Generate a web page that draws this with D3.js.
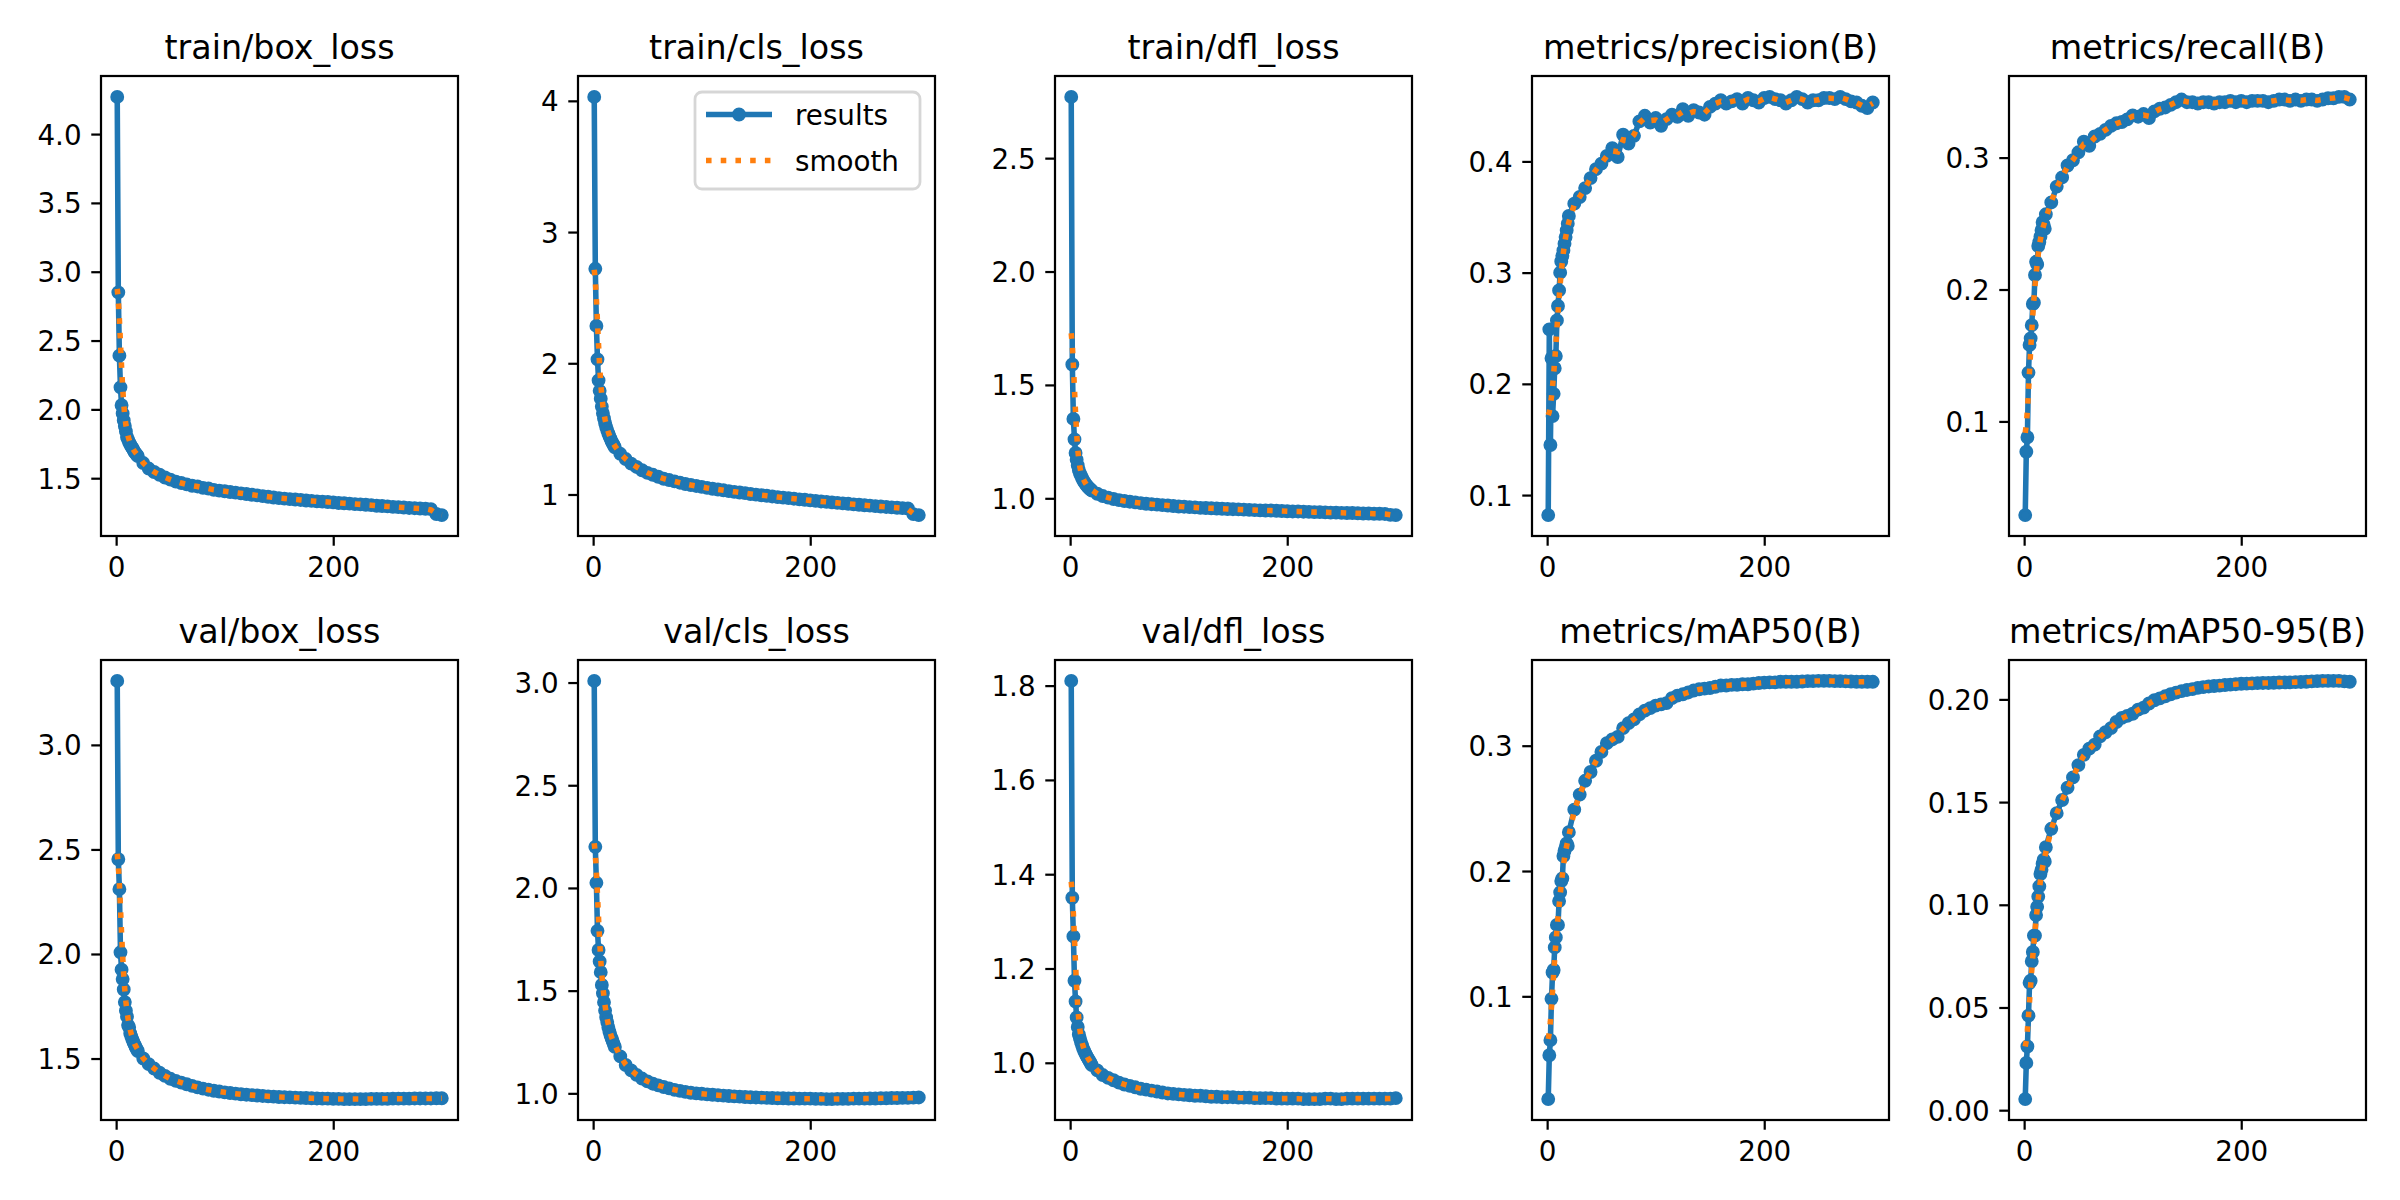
<!DOCTYPE html>
<html>
<head>
<meta charset="utf-8">
<script src="https://cdn.jsdelivr.net/npm/d3@7"></script>
<style>
  body { margin: 0; background: #fff; }
  svg { display: block; }
  text { font-family: "DejaVu Sans", sans-serif; fill: #000; }
</style>
</head>
<body>
<svg id="chart"></svg>
<script>
// epochs (every epoch at the start, then every 5)
const epochs = [1, 2, 3, 4, 5, 6, 7, 8, 9, 10, 11, 12, 13, 14, 15, 16, 17, 18, 19, 20,
  25, 30, 35, 40, 45, 50, 55, 60, 65, 70, 75, 80, 85, 90, 95, 100, 105, 110, 115, 120,
  125, 130, 135, 140, 145, 150, 155, 160, 165, 170, 175, 180, 185, 190, 195, 200, 205, 210, 215, 220,
  225, 230, 235, 240, 245, 250, 255, 260, 265, 270, 275, 280, 285, 290, 295, 300];

const titles = ["train/box_loss", "train/cls_loss", "train/dfl_loss", "metrics/precision(B)", "metrics/recall(B)",
  "val/box_loss", "val/cls_loss", "val/dfl_loss", "metrics/mAP50(B)", "metrics/mAP50-95(B)"];

const trainBoxLoss = [4.27, 2.85, 2.39, 2.16, 2.03, 1.97, 1.92, 1.88, 1.84, 1.80,
  1.78, 1.76, 1.745, 1.73, 1.72, 1.705, 1.69, 1.68, 1.67, 1.66,
  1.61, 1.57, 1.545, 1.525, 1.505, 1.49, 1.475, 1.465, 1.455, 1.445,
  1.44, 1.43, 1.425, 1.415, 1.41, 1.405, 1.40, 1.395, 1.39, 1.385,
  1.38, 1.375, 1.37, 1.365, 1.36, 1.355, 1.352, 1.348, 1.345, 1.342,
  1.338, 1.335, 1.332, 1.33, 1.327, 1.324, 1.32, 1.318, 1.315, 1.312,
  1.31, 1.307, 1.304, 1.30, 1.298, 1.295, 1.292, 1.29, 1.287, 1.284,
  1.282, 1.28, 1.278, 1.275, 1.24, 1.232];

const trainClsLoss = [4.03, 2.72, 2.285, 2.03, 1.87, 1.79, 1.73, 1.67, 1.62, 1.58,
  1.545, 1.515, 1.49, 1.465, 1.445, 1.425, 1.405, 1.39, 1.375, 1.36,
  1.31, 1.27, 1.235, 1.21, 1.185, 1.165, 1.15, 1.135, 1.12, 1.11,
  1.10, 1.09, 1.08, 1.072, 1.065, 1.058, 1.05, 1.044, 1.038, 1.032,
  1.026, 1.02, 1.015, 1.01, 1.004, 0.999, 0.994, 0.99, 0.985, 0.98,
  0.976, 0.972, 0.968, 0.963, 0.96, 0.955, 0.951, 0.947, 0.944, 0.94,
  0.936, 0.932, 0.929, 0.925, 0.922, 0.918, 0.915, 0.911, 0.908, 0.905,
  0.902, 0.899, 0.896, 0.893, 0.85, 0.843];

const trainDflLoss = [2.77, 1.59, 1.35, 1.26, 1.20, 1.17, 1.145, 1.125, 1.11, 1.10,
  1.09, 1.08, 1.072, 1.065, 1.058, 1.052, 1.047, 1.042, 1.038, 1.034,
  1.02, 1.01, 1.003, 0.997, 0.992, 0.988, 0.985, 0.982, 0.979, 0.976,
  0.974, 0.972, 0.97, 0.968, 0.966, 0.964, 0.963, 0.961, 0.96, 0.958,
  0.957, 0.956, 0.955, 0.954, 0.953, 0.952, 0.951, 0.95, 0.949, 0.948,
  0.947, 0.946, 0.946, 0.945, 0.944, 0.943, 0.942, 0.942, 0.941, 0.94,
  0.939, 0.939, 0.938, 0.937, 0.937, 0.936, 0.935, 0.935, 0.934, 0.933,
  0.933, 0.932, 0.932, 0.931, 0.927, 0.926];

const precision = [0.082, 0.249, 0.145, 0.223, 0.171, 0.191, 0.214, 0.225, 0.257, 0.270,
  0.284, 0.300, 0.310, 0.315, 0.320, 0.326, 0.332, 0.338, 0.344, 0.351,
  0.362, 0.368, 0.376, 0.385, 0.393, 0.398, 0.405, 0.412, 0.404, 0.424,
  0.416, 0.423, 0.436, 0.441, 0.435, 0.439, 0.432, 0.438, 0.442, 0.44,
  0.447, 0.441, 0.446, 0.444, 0.442, 0.449, 0.452, 0.455, 0.452, 0.454,
  0.456, 0.452, 0.457, 0.455, 0.453, 0.457, 0.458, 0.456, 0.455, 0.452,
  0.455, 0.458, 0.456, 0.453, 0.455, 0.455, 0.457, 0.457, 0.456, 0.458,
  0.456, 0.454, 0.453, 0.45, 0.448, 0.453];

const recall = [0.029, 0.077, 0.088, 0.137, 0.158, 0.163, 0.173, 0.189, 0.19, 0.211,
  0.221, 0.219, 0.233, 0.236, 0.240, 0.245, 0.251, 0.249, 0.246, 0.257,
  0.266, 0.278, 0.285, 0.294, 0.298, 0.304, 0.312, 0.309, 0.316, 0.318,
  0.321, 0.324, 0.326, 0.327, 0.329, 0.332, 0.331, 0.333, 0.330, 0.335,
  0.337, 0.338, 0.34, 0.342, 0.344, 0.342, 0.342, 0.341, 0.342, 0.342,
  0.341, 0.342, 0.342, 0.343, 0.342, 0.343, 0.342, 0.343, 0.343, 0.343,
  0.342, 0.343, 0.344, 0.344, 0.343, 0.344, 0.343, 0.344, 0.344, 0.343,
  0.344, 0.345, 0.345, 0.346, 0.346, 0.344];

const valBoxLoss = [3.306, 2.453, 2.31, 2.008, 1.925, 1.88, 1.83, 1.77, 1.729, 1.70,
  1.66, 1.65, 1.62, 1.605, 1.59, 1.578, 1.566, 1.555, 1.545, 1.536,
  1.50, 1.473, 1.452, 1.432, 1.417, 1.403, 1.393, 1.385, 1.377, 1.369,
  1.362, 1.356, 1.351, 1.346, 1.342, 1.338, 1.335, 1.332, 1.329, 1.327,
  1.325, 1.323, 1.321, 1.319, 1.318, 1.316, 1.315, 1.314, 1.313, 1.312,
  1.311, 1.31, 1.309, 1.308, 1.308, 1.307, 1.307, 1.306, 1.306, 1.306,
  1.306, 1.306, 1.307, 1.307, 1.307, 1.307, 1.308, 1.308, 1.308, 1.308,
  1.309, 1.309, 1.309, 1.309, 1.31, 1.31];

const valClsLoss = [3.008, 2.20, 2.025, 1.791, 1.698, 1.642, 1.59, 1.528, 1.487, 1.444,
  1.403, 1.37, 1.347, 1.322, 1.30, 1.283, 1.268, 1.254, 1.24, 1.226,
  1.18, 1.138, 1.112, 1.09, 1.072, 1.058, 1.047, 1.039, 1.031, 1.024,
  1.017, 1.012, 1.007, 1.003, 1.0, 0.998, 0.995, 0.993, 0.991, 0.989,
  0.987, 0.985, 0.984, 0.982, 0.981, 0.98, 0.979, 0.978, 0.977, 0.976,
  0.976, 0.975, 0.975, 0.974, 0.974, 0.974, 0.973, 0.973, 0.972, 0.972,
  0.973, 0.973, 0.973, 0.974, 0.974, 0.974, 0.975, 0.975, 0.976, 0.976,
  0.977, 0.977, 0.978, 0.978, 0.979, 0.98];

const valDflLoss = [1.81, 1.35, 1.268, 1.174, 1.13, 1.096, 1.076, 1.06, 1.052, 1.044,
  1.037, 1.03, 1.025, 1.02, 1.015, 1.011, 1.007, 1.003, 0.999, 0.995,
  0.984, 0.974, 0.968, 0.963, 0.958, 0.954, 0.951, 0.948, 0.945, 0.943,
  0.941, 0.939, 0.937, 0.935, 0.934, 0.933, 0.932, 0.931, 0.93, 0.93,
  0.929, 0.928, 0.928, 0.927, 0.927, 0.927, 0.926, 0.926, 0.926, 0.925,
  0.925, 0.925, 0.925, 0.924, 0.924, 0.924, 0.924, 0.924, 0.923, 0.923,
  0.923, 0.923, 0.924, 0.924, 0.923, 0.923, 0.924, 0.924, 0.924, 0.924,
  0.924, 0.924, 0.924, 0.924, 0.924, 0.925];

const mAP50 = [0.018, 0.053, 0.065, 0.098, 0.119, 0.121, 0.139, 0.147, 0.157, 0.157,
  0.176, 0.183, 0.192, 0.194, 0.212, 0.216, 0.219, 0.222, 0.220, 0.231,
  0.249, 0.261, 0.272, 0.279, 0.288, 0.295, 0.302, 0.305, 0.307, 0.314,
  0.318, 0.321, 0.325, 0.328, 0.330, 0.332, 0.333, 0.334, 0.338, 0.340,
  0.341, 0.3425, 0.344, 0.345, 0.3455, 0.346, 0.347, 0.348, 0.348, 0.3485,
  0.3485, 0.349, 0.349, 0.3495, 0.35, 0.3503, 0.3505, 0.3505, 0.351, 0.351,
  0.351, 0.351, 0.3512, 0.3515, 0.3515, 0.3517, 0.3517, 0.3517, 0.3515, 0.3515,
  0.3513, 0.3512, 0.351, 0.351, 0.351, 0.351];

const mAP5095 = [0.0054, 0.023, 0.031, 0.046, 0.062, 0.063, 0.0725, 0.077, 0.085, 0.085,
  0.095, 0.099, 0.104, 0.109, 0.115, 0.117, 0.120, 0.122, 0.121, 0.128,
  0.137, 0.1446, 0.151, 0.157, 0.162, 0.168, 0.173, 0.176, 0.178, 0.182,
  0.184, 0.186, 0.189, 0.191, 0.192, 0.193, 0.195, 0.196, 0.198, 0.1996,
  0.2005, 0.2015, 0.2025, 0.2033, 0.204, 0.2046, 0.205, 0.2056, 0.206, 0.2063,
  0.2065, 0.2067, 0.207, 0.2072, 0.2074, 0.2076, 0.2077, 0.2078, 0.2079, 0.208,
  0.208, 0.2081, 0.2082, 0.2083, 0.2083, 0.2084, 0.2085, 0.2086, 0.2088, 0.2089,
  0.209, 0.209, 0.209, 0.209, 0.2088, 0.2086];

// tick labels as they appear on each y axis
const yTickLabels = [
  ["1.5", "2.0", "2.5", "3.0", "3.5", "4.0"],
  ["1", "2", "3", "4"],
  ["1.0", "1.5", "2.0", "2.5"],
  ["0.1", "0.2", "0.3", "0.4"],
  ["0.1", "0.2", "0.3"],
  ["1.5", "2.0", "2.5", "3.0"],
  ["1.0", "1.5", "2.0", "2.5", "3.0"],
  ["1.0", "1.2", "1.4", "1.6", "1.8"],
  ["0.1", "0.2", "0.3"],
  ["0.00", "0.05", "0.10", "0.15", "0.20"]
];
const xTickLabels = ["0", "200"];
const legendLabels = ["results", "smooth"];

const series = [trainBoxLoss, trainClsLoss, trainDflLoss, precision, recall,
  valBoxLoss, valClsLoss, valDflLoss, mAP50, mAP5095];

// figure geometry (12x6 in at 200 dpi)
const W = 2400, H = 1200;
const pt = 200 / 72;
const colLeft = [101, 578, 1055, 1532, 2009];
const rowTop = [76, 660];
const axW = 357, axH = 460;
const blue = "#1f77b4", orange = "#ff7f0e";

const svg = d3.select("#chart")
  .attr("width", W)
  .attr("height", H)
  .attr("viewBox", `0 0 ${W} ${H}`);
svg.append("rect").attr("width", W).attr("height", H).attr("fill", "#fff");

// gaussian smoothing (sigma in epochs), reflected at both ends like gaussian_filter1d
function smooth(xs, ys, sigma) {
  const n = xs.length;
  const lo = xs[0] - 0.5, hi = xs[n - 1] + 0.5;
  const step = xs.map((x, i) => i === 0 ? xs[1] - xs[0]
    : i === n - 1 ? xs[i] - xs[i - 1] : (xs[i + 1] - xs[i - 1]) / 2);
  return xs.map(x0 => {
    let sw = 0, s = 0;
    xs.forEach((x, j) => {
      [x, 2 * lo - x, 2 * hi - x].forEach(xr => {
        const w = Math.exp(-((xr - x0) ** 2) / (2 * sigma * sigma)) * step[j];
        sw += w; s += w * ys[j];
      });
    });
    return s / sw;
  });
}

const xExt = d3.extent(epochs);
const xPad = (xExt[1] - xExt[0]) * 0.05;

series.forEach((ys, k) => {
  const left = colLeft[k % 5], top = rowTop[Math.floor(k / 5)];
  const g = svg.append("g").attr("transform", `translate(${left},${top})`);

  const sm = smooth(epochs, ys, 3);
  const yExt = d3.extent(ys.concat(sm));
  const yPad = (yExt[1] - yExt[0]) * 0.05;

  const x = d3.scaleLinear().domain([xExt[0] - xPad, xExt[1] + xPad]).range([0, axW]);
  const y = d3.scaleLinear().domain([yExt[0] - yPad, yExt[1] + yPad]).range([axH, 0]);

  const pts = epochs.map((e, i) => [e, ys[i]]);
  const spts = epochs.map((e, i) => [e, sm[i]]);
  const line = d3.line().x(d => x(d[0])).y(d => y(d[1]));

  // results line with point markers
  g.append("path")
    .attr("d", line(pts))
    .attr("fill", "none")
    .attr("stroke", blue)
    .attr("stroke-width", 2 * pt)
    .attr("stroke-linejoin", "round");

  g.selectAll(".pt")
    .data(pts)
    .enter().append("circle")
    .attr("class", "pt")
    .attr("cx", d => x(d[0]))
    .attr("cy", d => y(d[1]))
    .attr("r", 2 * pt)
    .attr("fill", blue)
    .attr("stroke", blue)
    .attr("stroke-width", pt);

  // smoothed dotted line
  g.append("path")
    .attr("d", line(spts))
    .attr("fill", "none")
    .attr("stroke", orange)
    .attr("stroke-width", 2 * pt)
    .attr("stroke-dasharray", `${2 * pt} ${3.3 * pt}`);

  // axes
  const yAxis = d3.axisLeft(y)
    .tickValues(yTickLabels[k].map(Number))
    .tickFormat((d, i) => yTickLabels[k][i])
    .tickSize(3.5 * pt)
    .tickPadding(3.5 * pt);
  const xAxis = d3.axisBottom(x)
    .tickValues(xTickLabels.map(Number))
    .tickFormat((d, i) => xTickLabels[i])
    .tickSize(3.5 * pt)
    .tickPadding(3.5 * pt);

  const ya = g.append("g").call(yAxis);
  const xa = g.append("g").attr("transform", `translate(0,${axH})`).call(xAxis);
  [ya, xa].forEach(a => {
    a.select(".domain").remove();
    a.selectAll(".tick line").attr("stroke", "#000").attr("stroke-width", 0.8 * pt);
    a.selectAll(".tick text")
      .attr("font-family", "DejaVu Sans")
      .attr("font-size", 10 * pt)
      .attr("fill", "#000");
  });
  ya.selectAll(".tick text").attr("dy", "0.36em");
  xa.selectAll(".tick text").attr("dy", "0.76em");

  // frame
  g.append("rect")
    .attr("width", axW)
    .attr("height", axH)
    .attr("fill", "none")
    .attr("stroke", "#000")
    .attr("stroke-width", 0.8 * pt);

  // title
  g.append("text")
    .attr("x", axW / 2)
    .attr("y", -6 * pt)
    .attr("text-anchor", "middle")
    .attr("font-size", 12 * pt)
    .text(titles[k]);

  // legend on the second panel, upper right
  if (k === 1) {
    const fs = 10 * pt;
    const lw = 225, lh = 97;
    const lx = axW - 15 - lw, ly = 16;
    const lg = g.append("g");
    lg.append("rect")
      .attr("x", lx).attr("y", ly)
      .attr("width", lw).attr("height", lh)
      .attr("rx", 7)
      .attr("fill", "#fff").attr("fill-opacity", 0.8)
      .attr("stroke", "#cccccc").attr("stroke-opacity", 0.8)
      .attr("stroke-width", pt);
    legendLabels.forEach((lab, i) => {
      const cy = ly + 22.5 + i * 46;
      const hx1 = lx + 11, hx2 = lx + 77;
      if (i === 0) {
        lg.append("line")
          .attr("x1", hx1).attr("x2", hx2).attr("y1", cy).attr("y2", cy)
          .attr("stroke", blue).attr("stroke-width", 2 * pt);
        lg.append("circle")
          .attr("cx", (hx1 + hx2) / 2).attr("cy", cy).attr("r", 2 * pt)
          .attr("fill", blue).attr("stroke", blue).attr("stroke-width", pt);
      } else {
        lg.append("line")
          .attr("x1", hx1).attr("x2", hx2).attr("y1", cy).attr("y2", cy)
          .attr("stroke", orange).attr("stroke-width", 2 * pt)
          .attr("stroke-dasharray", `${2 * pt} ${3.3 * pt}`);
      }
      lg.append("text")
        .attr("x", lx + 100).attr("y", cy)
        .attr("dy", "0.36em")
        .attr("font-size", fs)
        .text(lab);
    });
  }
});
</script>
</body>
</html>
